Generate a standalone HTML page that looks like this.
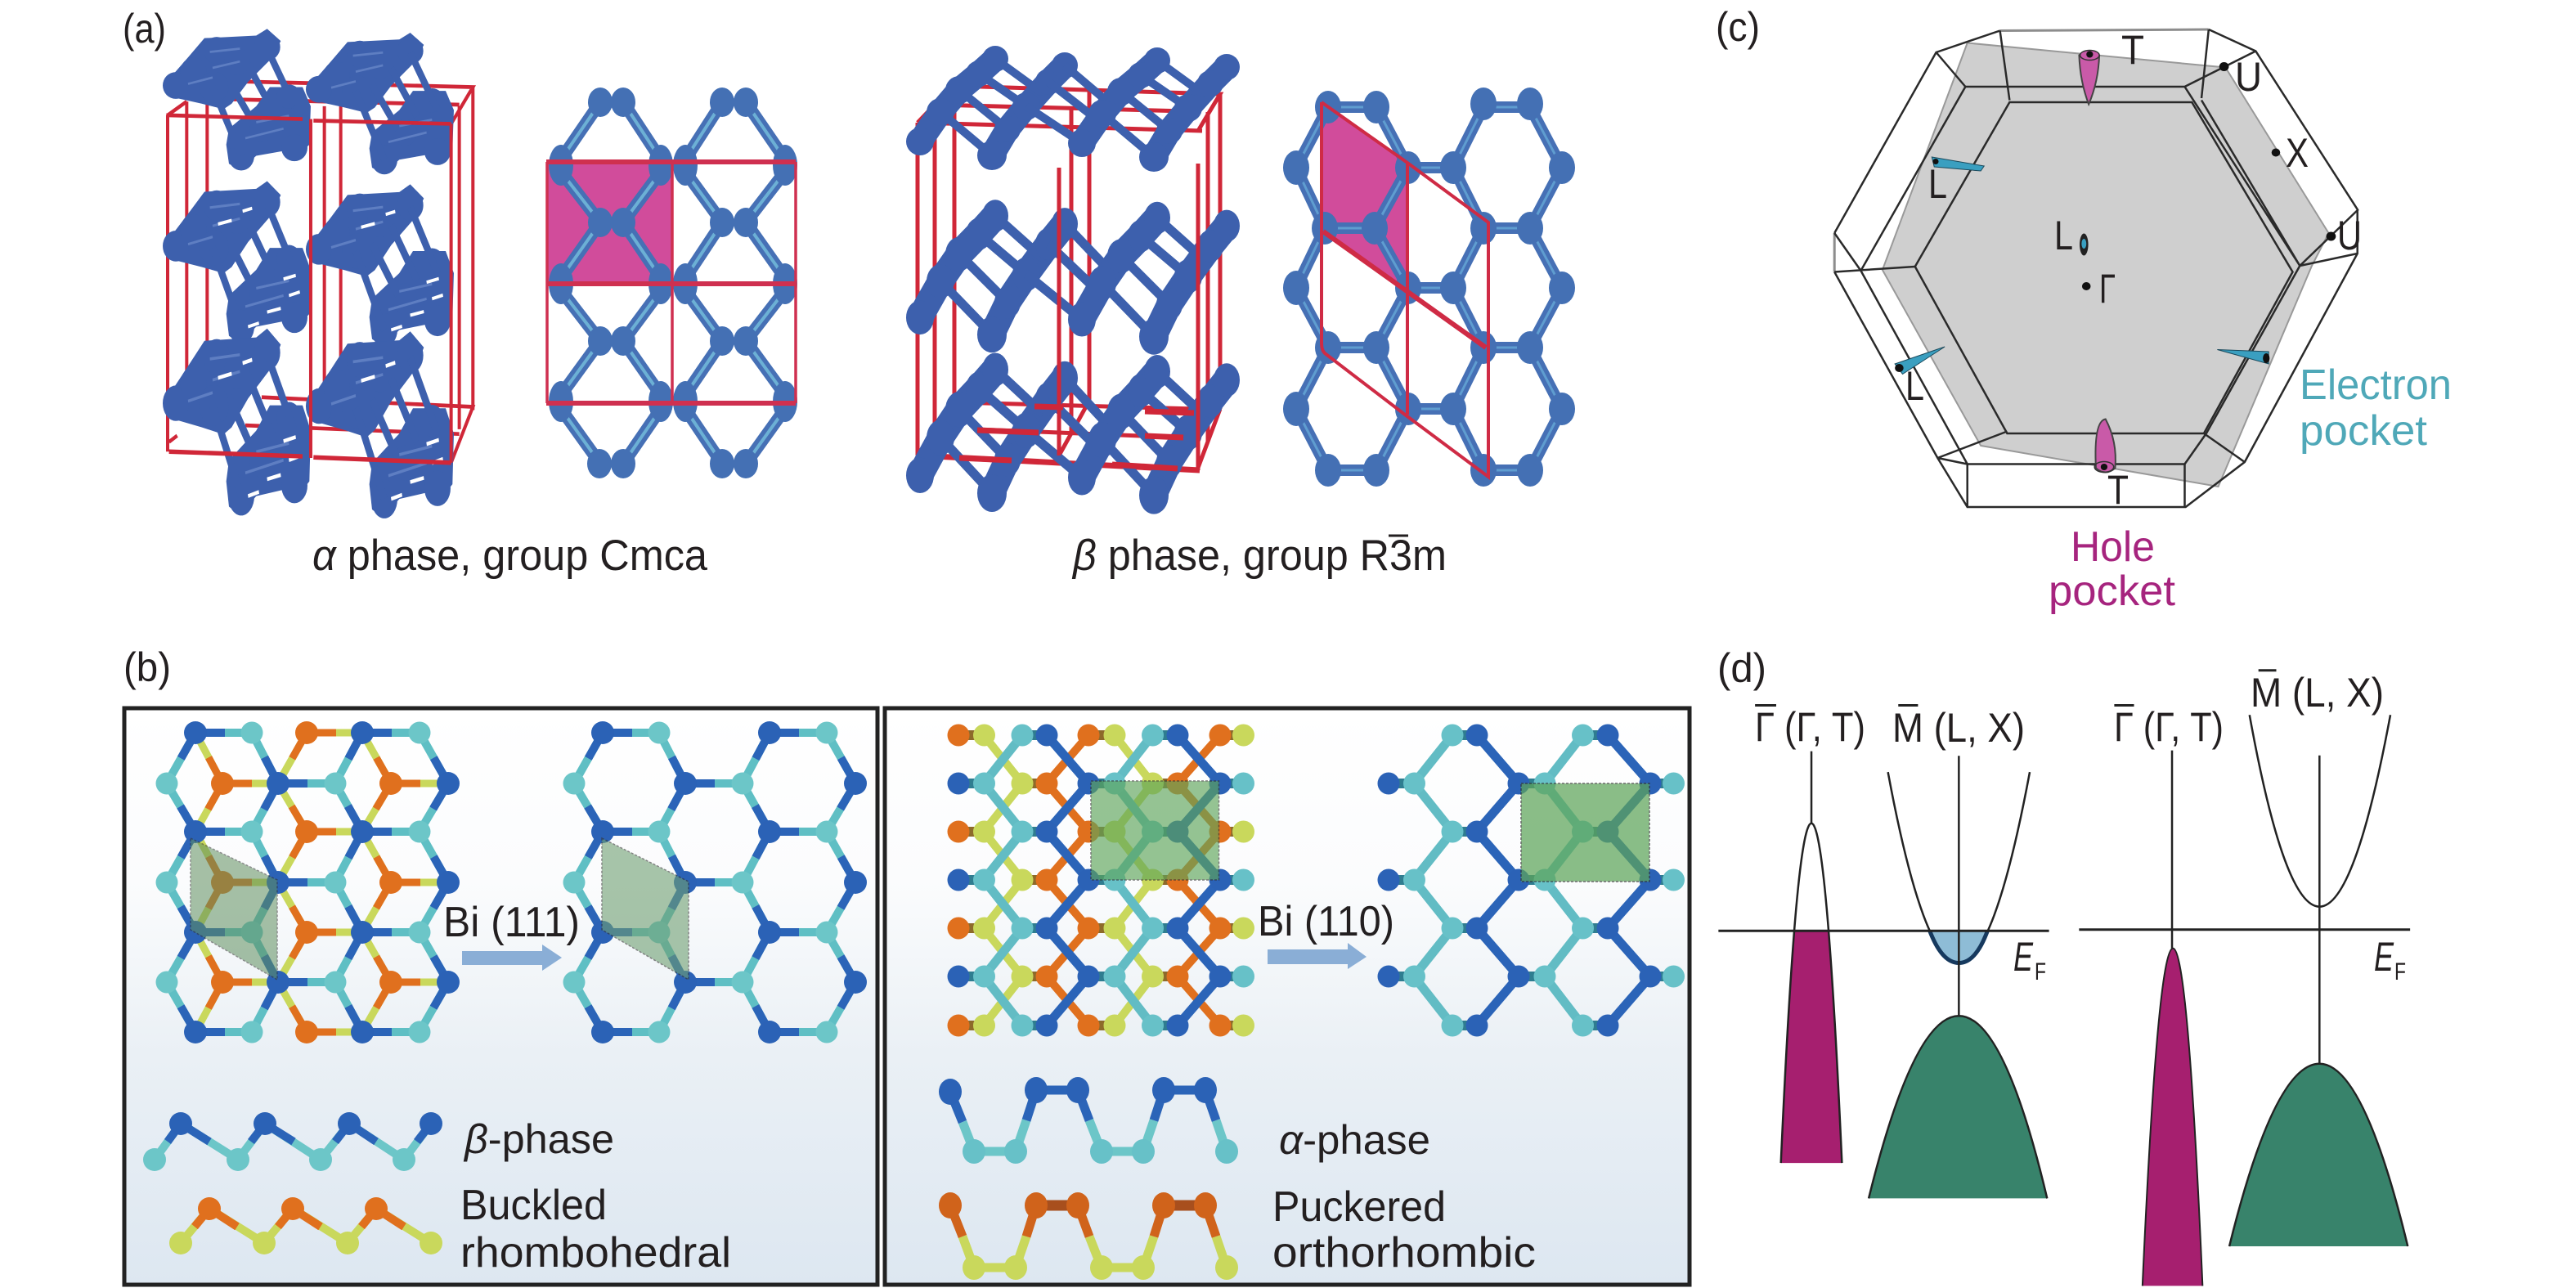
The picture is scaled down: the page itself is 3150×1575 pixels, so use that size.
<!DOCTYPE html>
<html><head><meta charset="utf-8"><style>
html,body{margin:0;padding:0;background:#fff}
svg{display:block}
text{font-family:"Liberation Sans",sans-serif;fill:#231f20}
</style></head><body>
<svg xmlns="http://www.w3.org/2000/svg" width="3150" height="1575" viewBox="0 0 3150 1575">
<defs>
<linearGradient id="bg" x1="0" y1="0" x2="0" y2="1"><stop offset="0" stop-color="#fff"/><stop offset=".3" stop-color="#fbfcfd"/><stop offset=".6" stop-color="#eaf0f5"/><stop offset="1" stop-color="#dde7f1"/></linearGradient>

<g id="A">
<g fill="#3d60ad" stroke="none">
<polygon points="65,160 150,77 210,17 400,9 440,-12 490,26 460,77 370,154 310,222 280,239 200,222 110,205 70,188"/>
<polygon points="290,350 300,300 400,230 450,170 570,170 600,230 595,350 540,395 500,370 400,385 340,430 300,410"/>
<ellipse cx="105" cy="165" rx="48" ry="42"/><ellipse cx="170" cy="120" rx="48" ry="42"/><ellipse cx="255" cy="55" rx="48" ry="42"/><ellipse cx="440" cy="45" rx="48" ry="42"/><ellipse cx="245" cy="170" rx="54" ry="48"/><ellipse cx="345" cy="385" rx="48" ry="46"/><ellipse cx="540" cy="360" rx="48" ry="42"/><ellipse cx="330" cy="90" rx="48" ry="42"/><ellipse cx="520" cy="200" rx="45" ry="38"/><ellipse cx="420" cy="300" rx="45" ry="42"/>
</g>
<g stroke="#3d60ad" stroke-width="24" fill="none">
<path d="M440 50L540 230M370 100L465 250M300 150L395 290M240 170L345 385"/>
</g>
<g stroke="#6c8ccb" stroke-width="7" fill="none" opacity=".7">
<path d="M150 160L240 140M240 110L340 90M230 60L340 50M360 330L500 300M400 280L520 260"/>
</g>
</g>
<g id="Fl" stroke="#fff" stroke-width="9" fill="none"><path d="M440 345L490 335M520 300L560 290M500 255L545 245M260 105L310 95M350 70L385 62M370 385L410 375"/></g>

<g id="bC">
<g stroke="#3d60ad" fill="none" stroke-linecap="round">
<path stroke-width="30" d="M1125 173L1150 137L1173 110L1197 90L1217 72"/>
<path stroke-width="30" d="M1213 190L1232 158L1255 130L1282 100L1302 80"/>
<path stroke-width="10" d="M1217 72L1272 112M1197 90L1255 130M1173 110L1232 158M1150 137L1213 190"/>
</g>
<g fill="#3d60ad">
<circle cx="1125" cy="173" r="17"/><circle cx="1150" cy="137" r="17"/><circle cx="1173" cy="110" r="17"/><circle cx="1197" cy="90" r="16"/><circle cx="1217" cy="72" r="16"/>
<circle cx="1213" cy="190" r="18"/><circle cx="1232" cy="158" r="16"/><circle cx="1255" cy="130" r="17"/><circle cx="1282" cy="100" r="16"/><circle cx="1302" cy="80" r="16"/>
</g>
</g>
<g id="bX"><path stroke="#3d60ad" stroke-width="10" fill="none" d="M1302 80L1355 125M1282 100L1340 145M1255 130L1323 175"/></g>
<g id="bB"><use href="#bC"/><use href="#bX"/><use href="#bC" x="198" y="2"/></g>

<path id="hb" d="M239 896L308 896M443 896L513 896M239 1017L308 1017M443 1017L513 1017M239 1140L308 1140M443 1140L513 1140M239 1262L308 1262M443 1262L513 1262M340 958L410 958M340 1079L410 1079M340 1201L410 1201M239 896L204 958M239 1017L204 958M239 1017L204 1079M239 1140L204 1079M239 1140L204 1201M239 1262L204 1201M443 896L410 958M443 1017L410 958M443 1017L410 1079M443 1140L410 1079M443 1140L410 1201M443 1262L410 1201M340 958L308 896M340 958L308 1017M340 1079L308 1017M340 1079L308 1140M340 1201L308 1140M340 1201L308 1262M548 958L513 896M548 958L513 1017M548 1079L513 1017M548 1079L513 1140M548 1201L513 1140M548 1201L513 1262"/>
<path id="ob" d="M375 896L443 896M375 1017L443 1017M375 1140L443 1140M375 1262L443 1262M272 958L340 958M272 1079L340 1079M272 1201L340 1201M478 958L548 958M478 1079L548 1079M478 1201L548 1201M272 958L239 896M272 958L239 1017M272 1079L239 1017M272 1079L239 1140M272 1201L239 1140M272 1201L239 1262M478 958L443 896M478 958L443 1017M478 1079L443 1017M478 1079L443 1140M478 1201L443 1140M478 1201L443 1262M375 896L340 958M375 1017L340 958M375 1017L340 1079M375 1140L340 1079M375 1140L340 1201M375 1262L340 1201"/>

<g id="hc">
<use href="#hb" fill="none" stroke="#5fbfc4" stroke-width="10"/>
<use href="#hb" fill="none" stroke="#2b64b8" stroke-width="10" stroke-dasharray="36 120"/>
<g fill="#2b62b6">
<circle cx="239" cy="896" r="14"/><circle cx="443" cy="896" r="14"/><circle cx="239" cy="1017" r="14"/><circle cx="443" cy="1017" r="14"/><circle cx="239" cy="1140" r="14"/><circle cx="443" cy="1140" r="14"/><circle cx="239" cy="1262" r="14"/><circle cx="443" cy="1262" r="14"/>
<circle cx="340" cy="958" r="14"/><circle cx="548" cy="958" r="14"/><circle cx="340" cy="1079" r="14"/><circle cx="548" cy="1079" r="14"/><circle cx="340" cy="1201" r="14"/><circle cx="548" cy="1201" r="14"/>
</g>
<g fill="#6cc6c8">
<circle cx="308" cy="896" r="13.500"/><circle cx="513" cy="896" r="13.500"/><circle cx="308" cy="1017" r="13.500"/><circle cx="513" cy="1017" r="13.500"/><circle cx="308" cy="1140" r="13.500"/><circle cx="513" cy="1140" r="13.500"/><circle cx="308" cy="1262" r="13.500"/><circle cx="513" cy="1262" r="13.500"/>
<circle cx="204" cy="958" r="13.500"/><circle cx="410" cy="958" r="13.500"/><circle cx="204" cy="1079" r="13.500"/><circle cx="410" cy="1079" r="13.500"/><circle cx="204" cy="1201" r="13.500"/><circle cx="410" cy="1201" r="13.500"/>
</g>
</g>

<g id="ry">
<g fill="none" stroke-width="10">
<path stroke="#c9d85c" d="M1203 899L1250 958L1203 1017L1250 1076L1203 1135L1250 1194L1203 1254M1363 899L1409 958L1363 1017L1409 1076L1363 1135L1409 1194L1363 1254"/>
<path stroke="#e0701e" d="M1331 899L1280 958L1331 1017L1280 1076L1331 1135L1280 1194L1331 1254M1492 899L1440 958L1492 1017L1440 1076L1492 1135L1440 1194L1492 1254"/>
</g>
</g>
<g id="pO">
<path d="M1172 0H1204M1331 0H1363M1492 0H1520" stroke="#8d6a2a" stroke-width="12"/>
<g fill="#c9d85c"><circle cx="1203.500" cy="0" r="13.500"/><circle cx="1363" cy="0" r="13.500"/><circle cx="1520.500" cy="0" r="13.500"/></g>
<g fill="#e0701e"><circle cx="1172" cy="0" r="13.500"/><circle cx="1331" cy="0" r="13.500"/><circle cx="1492" cy="0" r="13.500"/></g>
</g>
<g id="qO">
<path d="M1250 0H1280M1409 0H1440" stroke="#8d6a2a" stroke-width="12"/>
<g fill="#c9d85c"><circle cx="1250" cy="0" r="13.500"/><circle cx="1409.500" cy="0" r="13.500"/></g>
<g fill="#e0701e"><circle cx="1280" cy="0" r="13.500"/><circle cx="1440" cy="0" r="13.500"/></g>
</g>
<g id="pB">
<path d="M1250 0H1280M1409 0H1440" stroke="#2f7d90" stroke-width="12"/>
<g fill="#67c1c8"><circle cx="1250" cy="0" r="13.500"/><circle cx="1409.500" cy="0" r="13.500"/></g>
<g fill="#2b62b6"><circle cx="1280" cy="0" r="13.500"/><circle cx="1440" cy="0" r="13.500"/></g>
</g>
<g id="qB">
<path d="M1172 0H1204M1331 0H1363M1492 0H1520" stroke="#2f7d90" stroke-width="12"/>
<g fill="#67c1c8"><circle cx="1203.500" cy="0" r="13.500"/><circle cx="1363" cy="0" r="13.500"/><circle cx="1520.500" cy="0" r="13.500"/></g>
<g fill="#2b62b6"><circle cx="1172" cy="0" r="13.500"/><circle cx="1331" cy="0" r="13.500"/><circle cx="1492" cy="0" r="13.500"/></g>
</g>
<g id="blay">
<g fill="none" stroke-width="11">
<path stroke="#62bcc4" d="M1250 899L1203 958L1250 1017L1203 1076L1250 1135L1203 1194L1250 1254M1409 899L1363 958L1409 1017L1363 1076L1409 1135L1363 1194L1409 1254"/>
<path stroke="#2b64b8" d="M1280 899L1331 958L1280 1017L1331 1076L1280 1135L1331 1194L1280 1254M1440 899L1492 958L1440 1017L1492 1076L1440 1135L1492 1194L1440 1254"/>
</g>
<use href="#pB" y="899"/><use href="#qB" y="958"/><use href="#pB" y="1017"/><use href="#qB" y="1076"/><use href="#pB" y="1135"/><use href="#qB" y="1194"/><use href="#pB" y="1254"/>
</g>
</defs>
<rect width="3150" height="1575" fill="#fff"/>

<!-- panel a : alpha 3D -->
<g transform="translate(180,40) scale(.3333,.391)">
<g fill="none" stroke="#d02738" stroke-width="12">
<path d="M75 258V1310M145 215V1170M220 215V1170M650 230V1180M710 225V1160M1145 230V1240M1195 170V1180"/>
<path d="M220 150L1195 170L1115 285M140 205L1145 225M420 1140L1195 1170L1115 1345M360 1228L1145 1255M75 258L145 215M80 1280L110 1260"/>
</g>
<use href="#A"/><use href="#A" x="525" y="12"/>
<use href="#A" transform="translate(0,478) scale(1,1.147)"/><use href="#A" transform="translate(525,488) scale(1,1.147)"/>
<use href="#A" transform="translate(0,941) scale(1,1.32)"/><use href="#A" transform="translate(525,950) scale(1,1.32)"/>
<use href="#Fl" transform="translate(0,478) scale(1,1.147)"/><use href="#Fl" transform="translate(525,488) scale(1,1.147)"/>
<use href="#Fl" transform="translate(0,941) scale(1,1.32)"/><use href="#Fl" transform="translate(525,950) scale(1,1.32)"/>
<g fill="none" stroke="#d02738" stroke-width="12">
<path d="M70 258L570 270M610 275L1115 285M600 270V1330M1115 285V1345"/>
<path stroke-width="14" d="M80 1310L570 1325M610 1328L1115 1345"/>
</g>
</g>

<!-- alpha top view -->
<rect x="668" y="198" width="154" height="149" fill="#d14c9b"/>
<g stroke="#4670b5" stroke-width="15" fill="none">
<path id="zz1" d="M734 125L686 195M762 125L808 195M883 125L838 195M912 125L960 195M686 210L734 272M808 210L762 272M838 210L883 272M960 210L912 272M734 272L686 340M762 272L808 340M883 272L838 340M912 272L960 340M686 355L734 417M808 355L762 417M838 355L883 417M960 355L912 417M734 417L686 483M762 417L808 483M883 417L838 483M912 417L960 483M686 500L734 567M808 500L762 567M838 500L883 567M960 500L912 567"/>
</g>
<use href="#zz1" fill="none" stroke="#6cb0d5" stroke-width="4"/>
<g fill="#4470b4">
<ellipse cx="734" cy="125" rx="15" ry="18"/><ellipse cx="762" cy="125" rx="15" ry="18"/><ellipse cx="883" cy="125" rx="15" ry="18"/><ellipse cx="912" cy="125" rx="15" ry="18"/>
<ellipse cx="734" cy="272" rx="15" ry="18"/><ellipse cx="762" cy="272" rx="15" ry="18"/><ellipse cx="883" cy="272" rx="15" ry="18"/><ellipse cx="912" cy="272" rx="15" ry="18"/>
<ellipse cx="734" cy="417" rx="15" ry="18"/><ellipse cx="762" cy="417" rx="15" ry="18"/><ellipse cx="883" cy="417" rx="15" ry="18"/><ellipse cx="912" cy="417" rx="15" ry="18"/>
<ellipse cx="733" cy="567" rx="15" ry="18"/><ellipse cx="762" cy="567" rx="15" ry="18"/><ellipse cx="883" cy="567" rx="15" ry="18"/><ellipse cx="912" cy="567" rx="15" ry="18"/>
<ellipse cx="686" cy="202" rx="15" ry="25"/><ellipse cx="808" cy="202" rx="15" ry="25"/><ellipse cx="838" cy="202" rx="15" ry="25"/><ellipse cx="960" cy="202" rx="15" ry="25"/>
<ellipse cx="686" cy="347" rx="15" ry="25"/><ellipse cx="808" cy="347" rx="15" ry="25"/><ellipse cx="838" cy="347" rx="15" ry="25"/><ellipse cx="960" cy="347" rx="15" ry="25"/>
<ellipse cx="686" cy="491" rx="15" ry="25"/><ellipse cx="808" cy="491" rx="15" ry="25"/><ellipse cx="838" cy="491" rx="15" ry="25"/><ellipse cx="960" cy="491" rx="15" ry="25"/>
</g>
<g fill="none" stroke="#cf3050">
<path stroke-width="6" d="M668 198H973M668 347H973M668 493H973"/>
<path stroke-width="3.500" d="M669 198V493M822 198V493M973 198V493"/>
</g>

<!-- beta 3D -->
<g fill="none" stroke="#d02738" stroke-width="5">
<path d="M1122 150V557M1143 128V520M1167 105V492M1310 130V530M1332 110V490M1477 137V540M1492 115V500"/>
<path d="M1167 105L1492 115L1465 160M1143 128L1450 136M1122 150L1143 128L1167 105M1122 150L1470 160"/>
<path d="M1167 492L1463 500M1193 525L1447 535M1125 555L1167 492M1295 557L1332 490M1465 572L1492 500"/>
<path stroke-width="7" d="M1125 557L1467 575"/>
</g>
<use href="#bB"/>
<use href="#bB" transform="translate(0,175.400) scale(1,1.23)"/>
<use href="#bB" transform="translate(0,359.800) scale(1,1.28)"/>
<g fill="none" stroke="#d02738" stroke-width="5"><path d="M1295 205V557M1465 200V575"/><path stroke-width="7" d="M1173 560L1237 563M1195 526L1270 529M1265 497L1300 498M1400 503L1460 505M1400 533L1447 535M1360 568L1440 573"/></g>

<!-- beta top -->
<polygon points="1616,125 1721,199 1721,356 1616,283" fill="#d14c9b"/>
<g stroke="#4670b5" stroke-width="14" fill="none">
<path id="hz" d="M1585 205L1624 131M1585 205L1620 279M1620 279H1681M1681 279L1722 205M1681 279L1722 352M1722 205H1777M1722 352H1777M1777 205L1814 131M1777 205L1814 279M1777 352L1814 279M1777 352L1814 425M1814 279H1871M1871 279L1910 205M1871 279L1910 352M1624 131H1683M1683 131L1722 205M1814 131H1871M1871 131L1910 205M1585 352L1620 279M1585 352L1624 425M1624 425H1683M1683 425L1722 352M1683 425L1722 500M1722 500H1777M1777 500L1814 425M1777 500L1814 575M1814 425H1871M1871 425L1910 352M1871 425L1910 500M1585 500L1624 425M1585 500L1624 575M1624 575H1683M1683 575L1722 500M1814 575H1871M1871 575L1910 500"/>
</g>
<use href="#hz" fill="none" stroke="#5f9dd0" stroke-width="3"/>
<g fill="#4470b4">
<ellipse cx="1585" cy="205" rx="16" ry="21"/><ellipse cx="1722" cy="205" rx="16" ry="20"/><ellipse cx="1777" cy="205" rx="16" ry="20"/><ellipse cx="1910" cy="205" rx="16" ry="20"/>
<ellipse cx="1620" cy="279" rx="16" ry="20"/><ellipse cx="1681" cy="279" rx="16" ry="20"/><ellipse cx="1814" cy="279" rx="16" ry="20"/><ellipse cx="1871" cy="279" rx="16" ry="20"/>
<ellipse cx="1585" cy="352" rx="16" ry="21"/><ellipse cx="1722" cy="352" rx="16" ry="20"/><ellipse cx="1777" cy="352" rx="16" ry="20"/><ellipse cx="1910" cy="352" rx="16" ry="20"/>
<ellipse cx="1624" cy="425" rx="16" ry="20"/><ellipse cx="1683" cy="425" rx="16" ry="20"/><ellipse cx="1814" cy="425" rx="16" ry="20"/><ellipse cx="1871" cy="425" rx="16" ry="20"/>
<ellipse cx="1585" cy="500" rx="16" ry="21"/><ellipse cx="1722" cy="500" rx="16" ry="20"/><ellipse cx="1777" cy="500" rx="16" ry="20"/><ellipse cx="1910" cy="500" rx="16" ry="20"/>
<ellipse cx="1624" cy="575" rx="16" ry="20"/><ellipse cx="1683" cy="575" rx="16" ry="20"/><ellipse cx="1814" cy="575" rx="16" ry="20"/><ellipse cx="1871" cy="575" rx="16" ry="20"/>
<ellipse cx="1624" cy="131" rx="16" ry="20"/><ellipse cx="1683" cy="131" rx="16" ry="20"/><ellipse cx="1814" cy="127" rx="16" ry="20"/><ellipse cx="1871" cy="127" rx="16" ry="20"/>
</g>
<g fill="none" stroke="#cf2b45">
<path stroke-width="4" d="M1616 125L1721 199L1820 272V583L1718 507L1620 432Q1616 428 1616 420V125M1721 199V507"/>
<path stroke-width="6" d="M1618 283L1817 425"/>
</g>

<!-- panel b -->
<rect x="152" y="866" width="921" height="705" fill="url(#bg)" stroke="#222" stroke-width="5"/>
<rect x="1082" y="866" width="984" height="705" fill="url(#bg)" stroke="#222" stroke-width="5"/>

<use href="#ob" fill="none" stroke="#c9d85c" stroke-width="9"/>
<use href="#ob" fill="none" stroke="#e0701e" stroke-width="9" stroke-dasharray="36 120"/>
<g fill="#e0701e">
<circle cx="375" cy="896" r="14"/><circle cx="375" cy="1017" r="14"/><circle cx="375" cy="1140" r="14"/><circle cx="375" cy="1262" r="14"/>
<circle cx="272" cy="958" r="14"/><circle cx="478" cy="958" r="14"/><circle cx="272" cy="1079" r="14"/><circle cx="478" cy="1079" r="14"/><circle cx="272" cy="1201" r="14"/><circle cx="478" cy="1201" r="14"/>
</g>
<use href="#hc"/>
<use href="#hc" x="498"/>
<polygon points="233,1025 339,1076 339,1198 233,1137" fill="#5f8f5f" opacity=".55" stroke="#333" stroke-width="1.500" stroke-dasharray="3 2"/>
<polygon points="736,1025 842,1078 842,1198 736,1137" fill="#6f9f72" opacity=".6" stroke="#333" stroke-width="1.500" stroke-dasharray="3 2"/>
<polygon points="565,1163 663,1163 663,1155 687,1171 663,1187 663,1180 565,1180" fill="#8aaed6"/>

<g fill="none" stroke-width="10">
<path stroke="#6cc6c8" d="M189 1418L221 1374L291 1418L324 1374L392 1418L427 1374L494 1418L527 1374"/>
<path stroke="#2b64b8" d="M205 1396L221 1374L256 1396M307 1396L324 1374L359 1396M410 1396L427 1374L460 1396M510 1396L527 1374"/>
<path stroke="#c9d85c" d="M221 1520L256 1478L323 1520L358 1478L425 1520L460 1478L527 1520"/>
<path stroke="#e0701e" d="M238 1500L256 1478L290 1500M340 1500L358 1478L392 1500M442 1500L460 1478L494 1500"/>
</g>
<g fill="#2b62b6"><circle cx="221" cy="1374" r="14"/><circle cx="324" cy="1374" r="14"/><circle cx="427" cy="1374" r="14"/><circle cx="527" cy="1374" r="14"/></g>
<g fill="#6cc6c8"><circle cx="189" cy="1418" r="14"/><circle cx="291" cy="1418" r="14"/><circle cx="392" cy="1418" r="14"/><circle cx="494" cy="1418" r="14"/></g>
<g fill="#e0701e"><circle cx="256" cy="1478" r="14"/><circle cx="358" cy="1478" r="14"/><circle cx="460" cy="1478" r="14"/></g>
<g fill="#c9d85c"><circle cx="221" cy="1520" r="14"/><circle cx="323" cy="1520" r="14"/><circle cx="425" cy="1520" r="14"/><circle cx="527" cy="1520" r="14"/></g>

<use href="#ry"/>
<use href="#pO" y="899"/><use href="#qO" y="958"/><use href="#pO" y="1017"/><use href="#qO" y="1076"/><use href="#pO" y="1135"/><use href="#qO" y="1194"/><use href="#pO" y="1254"/>
<use href="#blay"/>
<use href="#blay" x="526"/>
<rect x="1334" y="955" width="156.500" height="121" fill="#5ea55a" opacity=".65" stroke="#333" stroke-width="1.500" stroke-dasharray="3 2"/>
<rect x="1860" y="958" width="157" height="120" fill="#5ea55a" opacity=".72" stroke="#333" stroke-width="1.500" stroke-dasharray="3 2"/>
<polygon points="1550,1161 1648,1161 1648,1153 1671,1170 1648,1185 1648,1179 1550,1179" fill="#8aaed6"/>

<g fill="none" stroke-width="11">
<path stroke="#6cc6c8" d="M1177 1372L1191 1408H1242L1255 1370M1332 1370L1347 1408H1398L1411 1370M1487 1370L1500 1408"/>
<path stroke="#2b64b8" d="M1162 1335L1177 1372M1255 1370L1267 1333H1318L1332 1370M1411 1370L1423 1333H1474L1487 1370"/>
<path stroke="#c9d85c" d="M1177 1512L1191 1550H1242L1255 1512M1332 1512L1347 1550H1398L1411 1512M1487 1512L1500 1550"/>
<path stroke="#d0631b" d="M1162 1474L1177 1512M1255 1512L1267 1474M1318 1474L1332 1512M1411 1512L1423 1474M1474 1474L1487 1512"/>
<path stroke="#a84f1d" stroke-width="13" d="M1267 1474H1318M1423 1474H1474"/>
</g>
<g fill="#2b62b6"><ellipse cx="1162" cy="1335" rx="14" ry="16"/><ellipse cx="1267" cy="1333" rx="14" ry="16"/><ellipse cx="1318" cy="1333" rx="14" ry="16"/><ellipse cx="1423" cy="1333" rx="14" ry="16"/><ellipse cx="1474" cy="1333" rx="14" ry="16"/></g>
<g fill="#67c1c8"><ellipse cx="1191" cy="1408" rx="14" ry="15"/><ellipse cx="1242" cy="1408" rx="14" ry="15"/><ellipse cx="1347" cy="1408" rx="14" ry="15"/><ellipse cx="1398" cy="1408" rx="14" ry="15"/><ellipse cx="1500" cy="1408" rx="14" ry="15"/></g>
<g fill="#d0631b"><ellipse cx="1162" cy="1474" rx="14" ry="16"/><ellipse cx="1267" cy="1474" rx="14" ry="16"/><ellipse cx="1318" cy="1474" rx="14" ry="16"/><ellipse cx="1423" cy="1474" rx="14" ry="16"/><ellipse cx="1474" cy="1474" rx="14" ry="16"/></g>
<g fill="#c9d85c"><ellipse cx="1191" cy="1550" rx="14" ry="15"/><ellipse cx="1242" cy="1550" rx="14" ry="15"/><ellipse cx="1347" cy="1550" rx="14" ry="15"/><ellipse cx="1398" cy="1550" rx="14" ry="15"/><ellipse cx="1500" cy="1550" rx="14" ry="15"/></g>

<!-- panel c -->
<g transform="translate(2120,0) scale(.5867,.5)">
<polygon points="487,105 1025,165 1240,570 1205,650 1010,1190 515,1090 310,660 460,190" fill="#cfcfcf" stroke="#999" stroke-width="2" vector-effect="non-scaling-stroke"/>
<g fill="none" stroke="#2a2a2a" stroke-width="2.500">
<path vector-effect="non-scaling-stroke" d="M555 75L422 128L210 570M210 665L425 1120L487 1240H942L1065 1130L1300 620V512L1088 125L990 72"/>
<path vector-effect="non-scaling-stroke" stroke="#8d8d8d" stroke-width="3" d="M555 75L990 72M210 570V665"/>
<path vector-effect="non-scaling-stroke" d="M575 250H955L1165 665L980 1060H570L378 652Z"/>
<path vector-effect="non-scaling-stroke" d="M483 212H940L1180 650L985 1060M483 212L265 662M555 75L575 245M990 72L975 240M422 128L483 212M1088 125L940 212M378 652L210 665M1180 650L1300 620M1180 650L1302 512M975 245L1180 650M570 1055L425 1120M980 1060L1065 1130M487 1135H940M487 1135V1240M940 1135V1240M940 1135L985 1060M487 1135L425 1120M265 662L487 1135M210 570L265 662"/>
</g>
<path d="M720 135Q740 120 762 135Q760 200 740 255Q722 200 720 135Z" fill="#c95aa8" stroke="#444" stroke-width="2" vector-effect="non-scaling-stroke"/>
<ellipse cx="742" cy="135" rx="20" ry="12" fill="#c95aa8" stroke="#333" stroke-width="1.500" vector-effect="non-scaling-stroke"/>
<path d="M755 1145Q750 1030 775 1025Q800 1080 795 1145Q775 1165 755 1145Z" fill="#c95aa8" stroke="#444" stroke-width="2" vector-effect="non-scaling-stroke"/>
<ellipse cx="772" cy="1142" rx="20" ry="13" fill="none" stroke="#333" stroke-width="1.500" vector-effect="non-scaling-stroke"/>
<path d="M413 384L522 406L515 418L418 408Z" fill="#3a9fc0" stroke="#1b4a5c" stroke-width="1" vector-effect="non-scaling-stroke"/>
<path d="M336 890L440 848L352 915Z" fill="#3a9fc0" stroke="#1b4a5c" stroke-width="1" vector-effect="non-scaling-stroke"/>
<path d="M1008 855L1115 860L1115 890Z" fill="#3a9fc0" stroke="#1b4a5c" stroke-width="1" vector-effect="non-scaling-stroke"/>
<ellipse cx="730" cy="598" rx="9" ry="27" fill="#222"/>
<ellipse cx="730" cy="596" rx="5" ry="12" fill="#3a9fc0"/>
<g fill="#111">
<ellipse cx="735" cy="700" rx="9" ry="10"/><ellipse cx="1130" cy="373" rx="9" ry="10"/><ellipse cx="1022" cy="163" rx="10" ry="11"/><ellipse cx="1245" cy="578" rx="10" ry="11"/><ellipse cx="345" cy="900" rx="9" ry="10"/><ellipse cx="772" cy="1142" rx="7" ry="8"/><ellipse cx="742" cy="133" rx="7" ry="8"/><ellipse cx="1110" cy="876" rx="7" ry="12"/><ellipse cx="421" cy="395" rx="6" ry="7"/>
</g>
</g>

<!-- panel d -->
<g transform="translate(2060,780) scale(.5742,.5096)">
<path d="M234 703H307Q322 950 335 1260H205Q218 950 234 703Z" fill="#a61f6f"/>
<path d="M205 1260Q237.500 445 270 445Q302.500 445 335 1260" fill="none" stroke="#222" stroke-width="2.500" vector-effect="non-scaling-stroke"/>
<path d="M522 703H645Q620 780 584 780Q548 780 522 703Z" fill="#8ebcd6"/>
<path d="M433 322Q508.500 780 584 780Q659 780 735 322" fill="none" stroke="#222" stroke-width="2.500" vector-effect="non-scaling-stroke"/>
<path d="M522 703Q548 780 584 780Q620 780 645 703" fill="none" stroke="#16395e" stroke-width="5" vector-effect="non-scaling-stroke"/>
<path d="M392 1345Q488 907 584 907Q680 907 772 1345Z" fill="#38836b"/>
<path d="M392 1345Q488 907 584 907Q680 907 772 1345" fill="none" stroke="#222" stroke-width="2.500" vector-effect="non-scaling-stroke"/>
<path d="M975 1555Q1007.500 745 1040 745Q1072 745 1103 1555Z" fill="#a61f6f" stroke="none"/>
<path d="M975 1555Q1007.500 745 1040 745Q1072 745 1103 1555" fill="none" stroke="#222" stroke-width="2" vector-effect="non-scaling-stroke"/>
<path d="M1203 185Q1277 645 1352 645Q1427 645 1503 185" fill="none" stroke="#222" stroke-width="2.500" vector-effect="non-scaling-stroke"/>
<path d="M1160 1460Q1256 1022 1352 1022Q1446 1022 1540 1460Z" fill="#38836b"/>
<path d="M1160 1460Q1256 1022 1352 1022Q1446 1022 1540 1460" fill="none" stroke="#222" stroke-width="2.500" vector-effect="non-scaling-stroke"/>
<g fill="none" stroke="#222" stroke-width="2.500">
<path vector-effect="non-scaling-stroke" d="M270 272V445M584 283V905M1038 270V745M1352 282V1022"/>
<path vector-effect="non-scaling-stroke" stroke-width="3" d="M72 703H776M840 700H1545"/>
<path vector-effect="non-scaling-stroke" stroke-width="3" d="M150 162H195M455 162H497M915 162H957M1222 78H1260"/>
</g>
</g>

<!-- text -->
<text x="150" y="52" font-size="50" textLength="53" lengthAdjust="spacingAndGlyphs">(a)</text>
<text x="151" y="833" font-size="50" textLength="58" lengthAdjust="spacingAndGlyphs">(b)</text>
<text x="2098" y="50" font-size="50" textLength="54" lengthAdjust="spacingAndGlyphs">(c)</text>
<text x="2100" y="834" font-size="50" textLength="60" lengthAdjust="spacingAndGlyphs">(d)</text>
<text x="382" y="697" font-size="53" textLength="483" lengthAdjust="spacingAndGlyphs"><tspan font-style="italic">α</tspan> phase, group Cmca</text>
<text x="1312" y="697" font-size="53" textLength="457" lengthAdjust="spacingAndGlyphs"><tspan font-style="italic">β</tspan> phase, group R3m</text>
<path d="M1698 655H1722" stroke="#231f20" stroke-width="3"/>

<text x="2594" y="78" font-size="50" textLength="28" lengthAdjust="spacingAndGlyphs">T</text>
<text x="2733" y="111" font-size="50" textLength="33" lengthAdjust="spacingAndGlyphs">U</text>
<text x="2795" y="204" font-size="50" textLength="28" lengthAdjust="spacingAndGlyphs">X</text>
<text x="2858" y="305" font-size="50" textLength="30" lengthAdjust="spacingAndGlyphs">U</text>
<text x="2358" y="242" font-size="50" textLength="23" lengthAdjust="spacingAndGlyphs">L</text>
<text x="2512" y="305" font-size="50" textLength="23" lengthAdjust="spacingAndGlyphs">L</text>
<text x="2567" y="370" font-size="50" textLength="20" lengthAdjust="spacingAndGlyphs">Γ</text>
<text x="2330" y="489" font-size="50" textLength="23" lengthAdjust="spacingAndGlyphs">L</text>
<text x="2577" y="616" font-size="50" textLength="26" lengthAdjust="spacingAndGlyphs">T</text>
<text x="2812" y="488" font-size="52" textLength="186" lengthAdjust="spacingAndGlyphs" style="fill:#4fa8b8">Electron</text>
<text x="2812" y="544" font-size="52" textLength="156" lengthAdjust="spacingAndGlyphs" style="fill:#4fa8b8">pocket</text>
<text x="2532" y="686" font-size="52" textLength="103" lengthAdjust="spacingAndGlyphs" style="fill:#a6247e">Hole</text>
<text x="2505" y="740" font-size="52" textLength="155" lengthAdjust="spacingAndGlyphs" style="fill:#a6247e">pocket</text>

<text x="2146" y="906" font-size="50" textLength="135" lengthAdjust="spacingAndGlyphs">Γ (Γ, T)</text>
<text x="2314" y="907" font-size="50" textLength="162" lengthAdjust="spacingAndGlyphs">M (L, X)</text>
<text x="2585" y="906" font-size="50" textLength="134" lengthAdjust="spacingAndGlyphs">Γ (Γ, T)</text>
<text x="2752" y="864" font-size="50" textLength="163" lengthAdjust="spacingAndGlyphs">M (L, X)</text>
<text x="2462" y="1187" font-size="50" font-style="italic" textLength="24" lengthAdjust="spacingAndGlyphs">E</text>
<text x="2488" y="1198" font-size="30" textLength="14" lengthAdjust="spacingAndGlyphs">F</text>
<text x="2903" y="1187" font-size="50" font-style="italic" textLength="24" lengthAdjust="spacingAndGlyphs">E</text>
<text x="2928" y="1198" font-size="30" textLength="14" lengthAdjust="spacingAndGlyphs">F</text>

<text x="542" y="1145" font-size="52" textLength="167" lengthAdjust="spacingAndGlyphs">Bi (111)</text>
<text x="1538" y="1144" font-size="52" textLength="167" lengthAdjust="spacingAndGlyphs">Bi (110)</text>
<text x="568" y="1410" font-size="50" textLength="183" lengthAdjust="spacingAndGlyphs"><tspan font-style="italic">β</tspan>-phase</text>
<text x="563" y="1491" font-size="52" textLength="179" lengthAdjust="spacingAndGlyphs">Buckled</text>
<text x="563" y="1549" font-size="52" textLength="331" lengthAdjust="spacingAndGlyphs">rhombohedral</text>
<text x="1564" y="1411" font-size="50" textLength="185" lengthAdjust="spacingAndGlyphs"><tspan font-style="italic">α</tspan>-phase</text>
<text x="1556" y="1493" font-size="52" textLength="212" lengthAdjust="spacingAndGlyphs">Puckered</text>
<text x="1556" y="1549" font-size="52" textLength="322" lengthAdjust="spacingAndGlyphs">orthorhombic</text>
</svg>
</body></html>
